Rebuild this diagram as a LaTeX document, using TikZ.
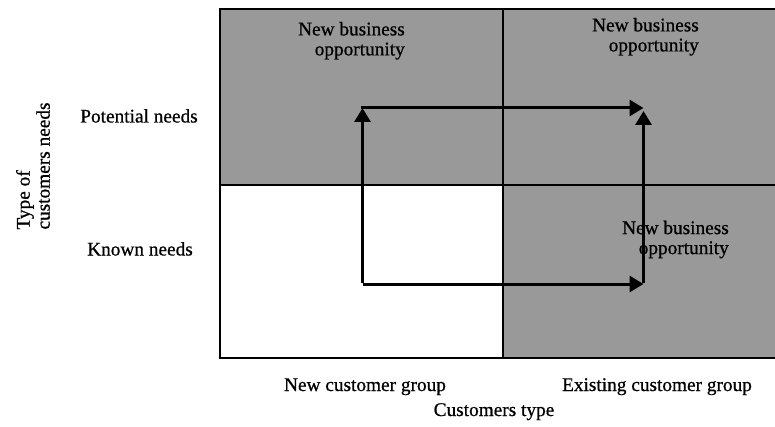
\documentclass[tikz,border=0pt]{standalone}
\usepackage{fontspec}
\setmainfont{Liberation Serif}[FakeBold=0.7]
\usetikzlibrary{arrows.meta}
\definecolor{cellgray}{RGB}{153,153,153}
\tikzset{
  frame/.style={line width=2.8pt},
  cell/.style={fill=cellgray},
  conn/.style={line width=3pt,-{Triangle[length=14pt,width=16pt]}},
  lbl/.style={inner sep=0pt,font=\fontsize{19.3}{20}\selectfont},
  opp/.style={lbl,align=right,anchor=north east},
}
\begin{document}
\begin{tikzpicture}[x=1pt,y=-1pt]
\useasboundingbox (0,0) rectangle (775,427);
% cells
\fill[cell] (220,9) rectangle (503,185);
\fill[cell] (503,9) rectangle (777,185);
\fill[cell] (503,185) rectangle (777,358);
% grid lines
\draw[frame] (777,9) -- (220,9) -- (220,358) -- (777,358);
\draw[frame] (503,9) -- (503,358);
\draw[frame] (220,185) -- (777,185);
% texts
\node[opp] (tl) at (405,21.8) {New business\\opportunity};
\node[opp] (tr) at (699,17.8) {New business\\opportunity};
\node[opp] (br) at (729,220.5) {New business\\opportunity};
\node[lbl,anchor=base] (pn) at (139,122.5) {Potential needs};
\node[lbl,anchor=base] (kn) at (140,255.5) {Known needs};
\node[lbl,rotate=90,align=left,anchor=center] (ty) at (33,166) {Type of\\customers needs};
\node[lbl,anchor=base] (nc) at (365,391) {New customer group};
\node[lbl,anchor=base] (ec) at (657,391) {Existing customer group};
\node[lbl,anchor=base] (ct) at (494,416) {Customers type};
% arrow corners
\coordinate (a) at (362.5,284);
\coordinate (b) at (362.5,108);
\coordinate (c) at (643.5,284);
\coordinate (d) at (643.5,108);
\coordinate (e) at (643.5,111);
\draw[conn] (a) -- (c);
\draw[conn] ([yshift=1.5pt]a) -- (b);
\draw[conn] ([xshift=-1.5pt]b) -- (d);
\draw[conn] ([yshift=1.5pt]c) -- (e);
\end{tikzpicture}
\end{document}
